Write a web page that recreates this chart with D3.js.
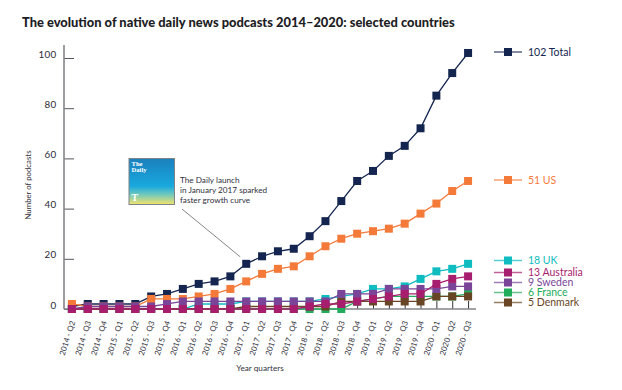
<!DOCTYPE html>
<html>
<head>
<meta charset="utf-8">
<script src="https://cdn.jsdelivr.net/npm/d3@7"></script>
<style>
  html, body { margin: 0; padding: 0; background: #fff; }
  text { font-family: "Lato", "Open Sans", sans-serif; }
</style>
</head>
<body>
<div id="chart"></div>
<script>
// ==============================
// DATA
// ==============================
const quarters = [
  "2014 - Q2", "2014 - Q3", "2014 - Q4",
  "2015 - Q1", "2015 - Q2", "2015 - Q3", "2015 - Q4",
  "2016 - Q1", "2016 - Q2", "2016 - Q3", "2016 - Q4",
  "2017 - Q1", "2017 - Q2", "2017 - Q3", "2017 - Q4",
  "2018 - Q1", "2018 - Q2", "2018 - Q3", "2018 - Q4",
  "2019 - Q1", "2019 - Q2", "2019 - Q3", "2019 - Q4",
  "2020 - Q1", "2020 - Q2", "2020 - Q3"
];
const total     = [1, 2, 2, 2, 2, 5, 6, 8, 10, 11, 13, 18, 21, 23, 24, 29, 35, 43, 51, 55, 61, 65, 72, 85, 94, 102];
const us        = [2, 1, 1, 1, 1, 4, 4, 4, 5, 6, 8, 11, 14, 16, 17, 21, 25, 28, 30, 31, 32, 34, 38, 42, 47, 51];
const uk        = [0, 0, 0, 0, 0, 0, 0, 0, 2, 2, 2, 3, 3, 3, 3, 3, 4, 5, 6, 8, 8, 9, 12, 15, 16, 18];
const france    = [0, 0, 0, 0, 0, 0, 0, 0, 0, 0, 0, 0, 0, 0, 0, 0, 0, 0, 3, 4, 5, 5, 5, 5, 5, 6];
const denmark   = [0, 0, 0, 0, 0, 0, 0, 0, 0, 0, 0, 1, 1, 1, 1, 1, 1, 3, 3, 3, 3, 3, 3, 5, 5, 5];
const sweden    = [0, 1, 1, 1, 1, 1, 2, 3, 3, 3, 3, 3, 3, 3, 3, 3, 3, 6, 6, 6, 8, 8, 8, 8, 9, 9];
const australia = [0, 0, 0, 0, 0, 0, 0, 0, 0, 0, 0, 0, 0, 0, 0, 1, 2, 2, 3, 4, 5, 6, 6, 10, 12, 13];
const yTicks = [0, 20, 40, 60, 80, 100];

// orden de dibujo: el último queda encima
const series = [
  { name: "Total",     values: total,     color: "#14264f", legendY: 52 },
  { name: "US",        values: us,        color: "#f47a3a", legendY: 180 },
  { name: "UK",        values: uk,        color: "#0fbcc0", legendY: 260.5 },
  { name: "France",    values: france,    color: "#22ad5c", legendY: 292.5 },
  { name: "Denmark",   values: denmark,   color: "#684525", legendY: 302.5 },
  { name: "Sweden",    values: sweden,    color: "#7a4599", legendY: 282.5 },
  { name: "Australia", values: australia, color: "#a81e6e", legendY: 272.5 }
];

// ==============================
// SVG AND SCALES
// ==============================
const width = 622;
const height = 390;
const markerSize = 8;

const svg = d3.select("#chart")
  .append("svg")
  .attr("width", width)
  .attr("height", height)
  .style("display", "block");

const x = d3.scalePoint()
  .domain(quarters)
  .range([64, 476])
  .padding(0.5);

const y = d3.scaleLinear()
  .domain([0, 100])
  .range([309, 58]);

// Title
svg.append("text")
  .attr("x", 22)
  .attr("y", 27)
  .attr("font-size", 12.9)
  .attr("font-weight", 900)
  .attr("fill", "#1d1d24")
  .text("The evolution of native daily news podcasts 2014–2020: selected countries");

// ==============================
// AXES
// ==============================
const yAxis = svg.append("g")
  .attr("transform", "translate(64,0)")
  .call(d3.axisLeft(y).tickValues(yTicks).tickSize(-10).tickPadding(7));
yAxis.select(".domain").remove();
yAxis.selectAll("line").attr("stroke", "#55555c").attr("stroke-width", 1);
yAxis.selectAll("text")
  .attr("x", -7.5)
  .attr("dy", "-0.1em")
  .attr("font-size", 9.8)
  .attr("letter-spacing", 0.3)
  .attr("fill", "#2a2a35")
  .style("font-family", "Lato");

svg.append("line")
  .attr("x1", 64).attr("x2", 64)
  .attr("y1", 45).attr("y2", 309)
  .attr("stroke", "#85858a")
  .attr("stroke-width", 1.6);

const xAxis = svg.append("g")
  .attr("transform", "translate(0,309)")
  .call(d3.axisBottom(x).tickSize(-8).tickPadding(0));
xAxis.select(".domain").remove();
xAxis.selectAll("line").attr("stroke", "#33333a").attr("stroke-width", 1);
xAxis.selectAll("text")
  .attr("font-size", 7.8)
  .attr("fill", "#33333d")
  .attr("text-anchor", "end")
  .attr("dy", 0)
  .attr("y", 0)
  .attr("transform", "translate(3,13) rotate(-72)")
  .style("font-family", "Lato");

svg.append("line")
  .attr("x1", 64).attr("x2", 476)
  .attr("y1", 309).attr("y2", 309)
  .attr("stroke", "#85858a")
  .attr("stroke-width", 1.6);

svg.append("text")
  .attr("x", 260)
  .attr("y", 371)
  .attr("text-anchor", "middle")
  .attr("font-size", 8.2)
  .attr("fill", "#33333d")
  .text("Year quarters");

svg.append("text")
  .attr("transform", "translate(31,185) rotate(-90)")
  .attr("text-anchor", "middle")
  .attr("font-size", 7.8)
  .attr("fill", "#33333d")
  .text("Number of podcasts");

// ==============================
// LINES AND MARKERS
// ==============================
const line = d3.line()
  .x((d, i) => x(quarters[i]))
  .y(d => y(d));

// primero las líneas de cada serie, marcador encima
series.forEach(s => {
  const g = svg.append("g");
  g.append("path")
    .attr("d", line(s.values))
    .attr("fill", "none")
    .attr("stroke", s.color)
    .attr("stroke-width", 1.3);
  g.selectAll("rect")
    .data(s.values)
    .join("rect")
    .attr("x", (d, i) => x(quarters[i]) - markerSize / 2)
    .attr("y", d => y(d) - markerSize / 2)
    .attr("width", markerSize)
    .attr("height", markerSize)
    .attr("fill", s.color);
});

// ==============================
// LEGEND
// ==============================
series.forEach(s => {
  const g = svg.append("g").attr("transform", `translate(0,${s.legendY})`);
  g.append("line")
    .attr("x1", 494).attr("x2", 522)
    .attr("stroke", s.color)
    .attr("stroke-width", 1.5)
    .attr("opacity", 0.7);
  g.append("rect")
    .attr("x", 508 - markerSize / 2)
    .attr("y", -markerSize / 2)
    .attr("width", markerSize)
    .attr("height", markerSize)
    .attr("fill", s.color);
  g.append("text")
    .attr("x", 528)
    .attr("dy", "0.34em")
    .attr("font-size", 10.5)
    .attr("fill", s.color)
    .text(`${s.values[s.values.length - 1]} ${s.name}`);
});

// ==============================
// ANNOTATION
// ==============================
const coverGrad = svg.append("defs").append("linearGradient")
  .attr("id", "cover")
  .attr("x1", "0%").attr("y1", "0%")
  .attr("x2", "0%").attr("y2", "100%");
coverGrad.selectAll("stop")
  .data([
    { offset: "0%", color: "#1b80bd" },
    { offset: "60%", color: "#18a9de" },
    { offset: "78%", color: "#6fc8bd" },
    { offset: "100%", color: "#f4e46b" }
  ])
  .join("stop")
  .attr("offset", d => d.offset)
  .attr("stop-color", d => d.color);

svg.append("rect")
  .attr("x", 129).attr("y", 158.5)
  .attr("width", 45.5).attr("height", 46)
  .attr("fill", "url(#cover)")
  .attr("stroke", "#7d8487")
  .attr("stroke-width", 1);

["The", "Daily"].forEach((t, i) => {
  svg.append("text")
    .attr("x", 131.5)
    .attr("y", 165.5 + i * 6.5)
    .attr("font-size", 6.6)
    .attr("font-weight", 700)
    .attr("fill", "#fff")
    .style("font-family", "Liberation Serif")
    .text(t);
});
svg.append("text")
  .attr("x", 131.5)
  .attr("y", 201)
  .attr("font-size", 10)
  .attr("font-weight", 700)
  .attr("fill", "#fff")
  .style("font-family", "Liberation Serif")
  .text("T");

["The Daily launch", "in January 2017 sparked", "faster growth curve"].forEach((t, i) => {
  svg.append("text")
    .attr("x", 180)
    .attr("y", 183 + i * 10)
    .attr("font-size", 8.2)
    .attr("fill", "#2f3040")
    .text(t);
});

svg.append("line")
  .attr("x1", 182).attr("y1", 209)
  .attr("x2", x("2017 - Q1") - 6).attr("y2", y(18) - 7)
  .attr("stroke", "#85858a")
  .attr("stroke-width", 1);
</script>
</body>
</html>
